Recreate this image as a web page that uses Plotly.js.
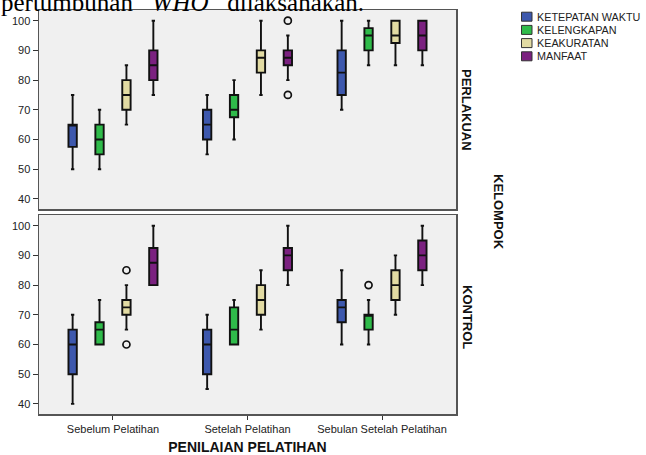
<!DOCTYPE html>
<html>
<head>
<meta charset="utf-8">
<script src="https://cdn.plot.ly/plotly-3.0.1.min.js"></script>
<style>html,body{margin:0;padding:0;background:#fff;}#chart{width:646px;height:455px;}</style>
</head>
<body>
<div id="chart"></div>
<script>
// ---- data ----
const categories = ['Sebelum Pelatihan', 'Setelah Pelatihan', 'Sebulan Setelah Pelatihan'];
const seriesNames = ['KETEPATAN WAKTU', 'KELENGKAPAN', 'KEAKURATAN', 'MANFAAT'];
const seriesColors = ['#3d58ad', '#2fbb4a', '#e2dba3', '#7b2180'];

// PERLAKUAN (top panel): per series, values per category
const perlakuanLow    = [[50, 55, 70], [50, 60, 85], [65, 75, 85], [75, 80, 85]];
const perlakuanQ1     = [[57.5, 60, 75], [55, 67.5, 90], [70, 82.5, 92.5], [80, 85, 90]];
const perlakuanMedian = [[65, 65, 82.5], [60, 70, 95], [75, 87.5, 95], [85, 87.5, 95]];
const perlakuanQ3     = [[65, 70, 90], [65, 75, 97.5], [80, 90, 100], [90, 90, 100]];
const perlakuanHigh   = [[75, 75, 100], [70, 80, 100], [85, 100, 100], [100, 95, 100]];
const perlakuanOutSeries = [3, 3];
const perlakuanOutCat    = [1, 1];
const perlakuanOutValue  = [100, 75];

// KONTROL (bottom panel)
const kontrolLow    = [[40, 45, 60], [60, 60, 60], [65, 65, 70], [80, 80, 80]];
const kontrolQ1     = [[50, 50, 67.5], [60, 60, 65], [70, 70, 75], [80, 85, 85]];
const kontrolMedian = [[60, 60, 72.5], [65, 65, 70], [72.5, 75, 80], [87.5, 90, 90]];
const kontrolQ3     = [[65, 65, 75], [67.5, 72.5, 70], [75, 80, 85], [92.5, 92.5, 95]];
const kontrolHigh   = [[70, 70, 85], [75, 75, 75], [80, 85, 90], [100, 100, 100]];
const kontrolOutSeries = [2, 2, 1];
const kontrolOutCat    = [0, 0, 2];
const kontrolOutValue  = [85, 60, 80];

// ---- layout constants ----
const seriesOffset = [-0.3, -0.1, 0.1, 0.3];
const FONT = '"Liberation Sans", Arial, sans-serif';
const PL = 39, PW = 417, PT = 10, PH = 404;
const px2x = p => (p - PL) / PW;
const py2y = p => 1 - (p - PT) / PH;

const traces = [];
function addPanel(low, q1, med, q3, high, outS, outC, outV, yax) {
  seriesNames.forEach((name, s) => {
    traces.push({
      type: 'box', name: name, xaxis: yax === 'y' ? 'x' : 'x2', yaxis: yax,
      x: categories.map((c, i) => i + seriesOffset[s]),
      q1: q1[s], median: med[s], q3: q3[s], lowerfence: low[s], upperfence: high[s],
      width: 0.062, whiskerwidth: 0.4,
      fillcolor: seriesColors[s],
      line: {color: '#111', width: 1.9},
      showlegend: false, hoverinfo: 'skip'
    });
  });
  traces.push({
    type: 'scatter', mode: 'markers', xaxis: yax === 'y' ? 'x' : 'x2', yaxis: yax,
    x: outS.map((s, k) => outC[k] + seriesOffset[s]), y: outV,
    marker: {symbol: 'circle-open', size: 7, color: '#111', line: {width: 1.7, color: '#111'}},
    showlegend: false, hoverinfo: 'skip'
  });
}
addPanel(kontrolLow, kontrolQ1, kontrolMedian, kontrolQ3, kontrolHigh, kontrolOutSeries, kontrolOutCat, kontrolOutValue, 'y');
addPanel(perlakuanLow, perlakuanQ1, perlakuanMedian, perlakuanQ3, perlakuanHigh, perlakuanOutSeries, perlakuanOutCat, perlakuanOutValue, 'y2');

const yCommon = {
  range: [36.6, 103.6], tickvals: [40, 50, 60, 70, 80, 90, 100],
  ticks: 'outside', ticklen: 5, tickwidth: 1, tickcolor: '#333',
  showline: true, mirror: true, linecolor: '#555', linewidth: 1.5,
  showgrid: false, zeroline: false,
  tickfont: {family: FONT, size: 11, color: '#222'}
};
const xCommon = {
  range: [-0.55, 2.55], tickvals: [0, 1, 2], ticktext: categories,
  showline: true, mirror: true, linecolor: '#555', linewidth: 1.5,
  showgrid: false, zeroline: false,
  tickfont: {family: FONT, size: 11, color: '#222'}
};

const annotations = [
  {text: 'pertumbuhan \u00a0\u00a0<i>WHO</i> \u00a0\u00a0dilaksanakan.', xref: 'paper', yref: 'paper',
   x: px2x(-1), y: py2y(3), xanchor: 'left', yanchor: 'middle', showarrow: false,
   font: {family: '"Liberation Serif", "Times New Roman", serif', size: 25, color: '#000'}},
  {text: '<b>PERLAKUAN</b>', xref: 'paper', yref: 'paper', x: px2x(467), y: py2y(110),
   xanchor: 'center', yanchor: 'middle',
   textangle: 90, showarrow: false, font: {family: FONT, size: 13, color: '#111'}},
  {text: '<b>KELOMPOK</b>', xref: 'paper', yref: 'paper', x: px2x(499), y: py2y(212),
   xanchor: 'center', yanchor: 'middle',
   textangle: 90, showarrow: false, font: {family: FONT, size: 13, color: '#111'}},
  {text: '<b>KONTROL</b>', xref: 'paper', yref: 'paper', x: px2x(468), y: py2y(317),
   xanchor: 'center', yanchor: 'middle',
   textangle: 90, showarrow: false, font: {family: FONT, size: 13, color: '#111'}}
];
const shapes = [];
seriesNames.forEach((name, s) => {
  const cy = 16.7 + s * 13.2;
  shapes.push({type: 'rect', xref: 'paper', yref: 'paper',
    x0: px2x(521.5), x1: px2x(532), y0: py2y(cy - 4.5), y1: py2y(cy + 4.5),
    fillcolor: seriesColors[s], line: {color: '#333', width: 1}});
  annotations.push({text: name, xref: 'paper', yref: 'paper', x: px2x(534.5), y: py2y(cy),
    xanchor: 'left', yanchor: 'middle', showarrow: false,
    font: {family: FONT, size: 10.8, color: '#222'}});
});

const layout = {
  width: 646, height: 455,
  margin: {l: PL, r: 646 - PL - PW, t: PT, b: 455 - PT - PH, pad: 0},
  paper_bgcolor: '#ffffff', plot_bgcolor: '#f0f0f0',
  showlegend: false, boxmode: 'overlay',
  xaxis: Object.assign({}, xCommon, {anchor: 'y', domain: [0, 1], ticks: 'outside', ticklen: 4, tickcolor: '#333',
    title: {text: '<b>PENILAIAN PELATIHAN</b>', font: {family: FONT, size: 14, color: '#111'}, standoff: 8}}),
  xaxis2: Object.assign({}, xCommon, {anchor: 'y2', matches: 'x', showticklabels: false, ticks: ''}),
  yaxis: Object.assign({}, yCommon, {anchor: 'x', domain: [0, 199 / 404]}),
  yaxis2: Object.assign({}, yCommon, {anchor: 'x2', domain: [205 / 404, 1]}),
  annotations: annotations, shapes: shapes
};
Plotly.newPlot('chart', traces, layout, {staticPlot: true, displayModeBar: false});
</script>
</body>
</html>
